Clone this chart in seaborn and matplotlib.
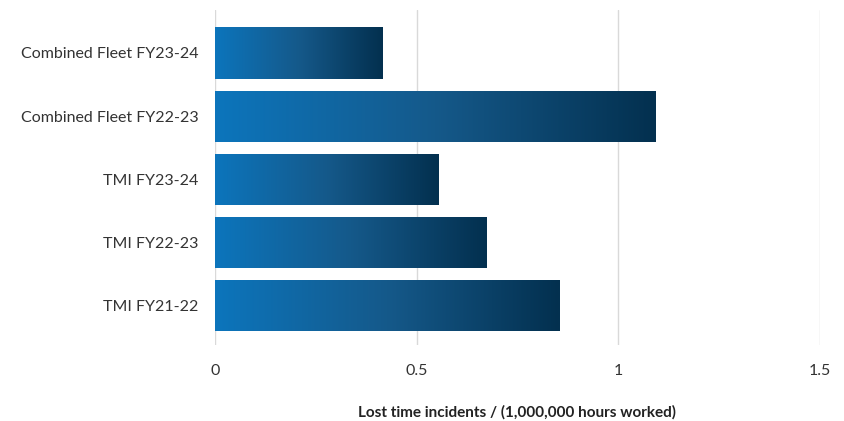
import numpy as np
import pandas as pd
import matplotlib.pyplot as plt
from matplotlib.colors import LinearSegmentedColormap
import seaborn as sns

# Data
categories = ["Combined Fleet FY23-24", "Combined Fleet FY22-23",
              "TMI FY23-24", "TMI FY22-23", "TMI FY21-22"]
values = [0.416, 1.092, 0.553, 0.672, 0.853]
xticks = [0, 0.5, 1, 1.5]
xticklabels = ["0", "0.5", "1", "1.5"]

df = pd.DataFrame({"label": categories, "value": values})

sns.set_style("white")
plt.rcParams["font.family"] = ["Lato", "DejaVu Sans"]

fig = plt.figure(figsize=(8.45, 4.21), dpi=100)
ax = fig.add_axes([0.2544, 0.1805, 0.7160, 0.7957])

sns.barplot(data=df, x="value", y="label", orient="h", width=0.81,
            color="#0C74BB", ax=ax, zorder=2)

# gradient fill on each bar
grad = LinearSegmentedColormap.from_list("bar", ["#0C75BC", "#15598A", "#03304F"])
g = np.linspace(0, 1, 256).reshape(1, -1)
for p in ax.patches:
    x0, y0 = p.get_x(), p.get_y()
    w, h = p.get_width(), p.get_height()
    p.set_facecolor("none")
    p.set_edgecolor("none")
    im = ax.imshow(g, cmap=grad, aspect="auto", extent=[x0, x0 + w, y0 + h, y0],
                   zorder=3, interpolation="bicubic")
    im.set_clip_path(p)

ax.set_xlim(0, 1.5)
ax.set_ylim(4.62, -0.68)
ax.set_xticks(xticks)
ax.set_xticklabels(xticklabels)
ax.grid(axis="x", color="#d9d9d9", linewidth=1, zorder=0)
ax.grid(axis="y", visible=False)
for s in ax.spines.values():
    s.set_visible(False)
ax.tick_params(axis="x", length=0, pad=14, labelsize=11.5, labelcolor="#333333")
ax.tick_params(axis="y", length=0, pad=12, labelsize=11.5, labelcolor="#333333")
ax.set_ylabel("")
ax.set_xlabel("Lost time incidents / (1,000,000 hours worked)", fontsize=11,
              fontweight="bold", color="#222222", labelpad=19)

fig.savefig("out.png", dpi=100)
